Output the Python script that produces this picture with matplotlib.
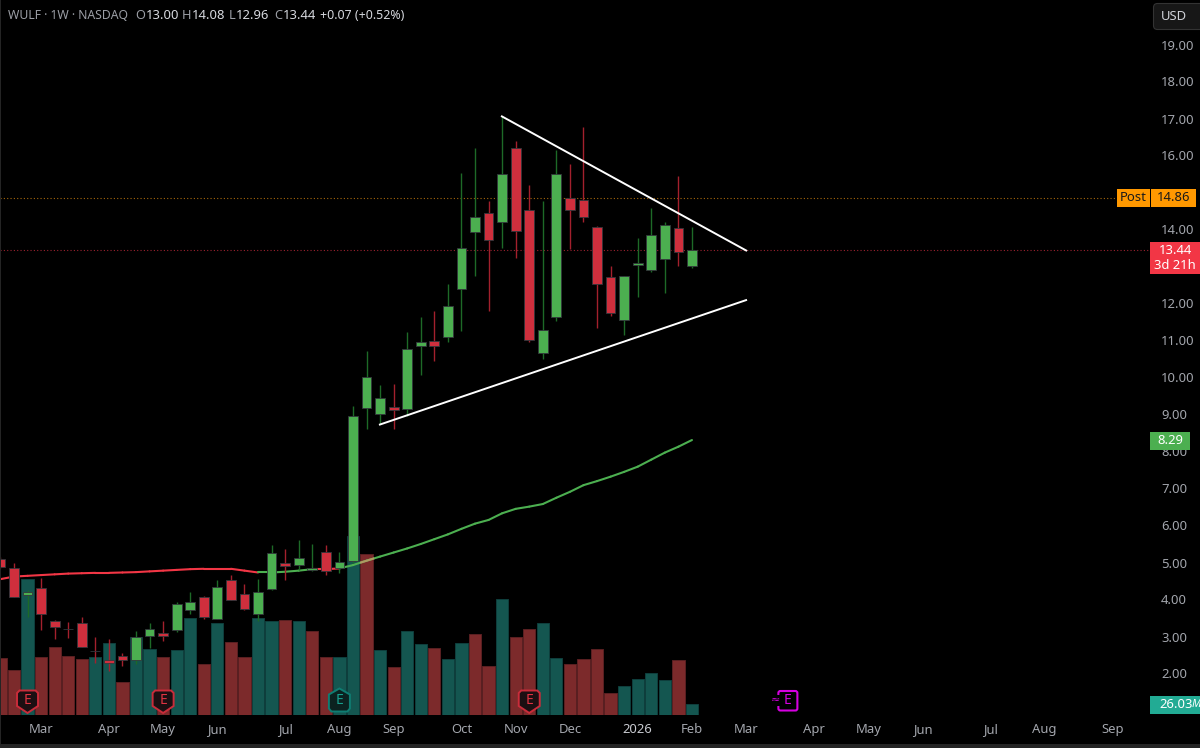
import matplotlib
matplotlib.use("Agg")
import matplotlib.pyplot as plt
from matplotlib.patches import Polygon, Rectangle, FancyBboxPatch
import numpy as np

opens = [5.09,4.84,4.11,4.31,3.41,3.21,3.36,2.61,2.37,2.48,2.36,3.02,3.09,3.17,3.71,4.06,3.48,4.54,4.15,3.62,4.29,5.00,4.93,4.80,5.28,4.84,
         5.05,9.18,9.02,9.21,9.14,10.86,10.98,11.09,12.40,13.94,14.45,14.21,16.19,14.52,10.67,11.63,14.86,14.79,14.07,12.71,11.55,13.03,12.91,13.19,14.05,13.00]
highs = [5.15,4.98,4.26,4.59,3.45,3.38,3.52,3.00,2.93,2.55,3.15,3.36,3.42,3.92,4.21,4.09,4.53,4.66,4.42,4.55,5.48,5.37,5.60,5.50,5.47,5.29,
         9.24,10.72,9.80,9.83,11.24,11.64,11.81,12.52,15.53,16.21,14.77,17.08,16.39,15.20,14.77,16.15,15.77,16.77,14.09,13.01,12.74,13.76,14.57,14.19,15.45,14.08]
lows = [4.85,4.08,3.54,3.18,2.92,2.97,2.72,2.29,2.08,2.21,2.26,2.69,2.89,3.11,3.62,3.47,3.48,3.99,3.72,3.42,4.26,4.53,4.80,4.78,4.66,4.71,
        5.00,8.61,8.74,8.61,8.97,10.07,10.45,10.97,11.26,12.74,11.81,13.50,13.22,10.97,10.50,11.53,13.46,14.19,11.34,11.66,11.15,12.18,12.85,12.28,13.01,12.96]
closes = [4.87,4.08,4.19,3.61,3.27,3.20,2.72,2.60,2.29,2.36,2.99,3.21,3.02,3.89,3.92,3.53,4.34,4.00,3.74,4.20,5.25,4.90,5.11,4.84,4.76,5.02,
          8.97,10.01,9.45,9.13,10.76,10.96,10.85,11.92,13.51,14.35,13.72,15.50,13.95,11.00,11.28,15.50,14.52,14.33,12.52,11.75,12.74,13.10,13.85,14.12,13.38,13.44]
volumes = [144,112,343,146,170,148,140,145,180,81,195,165,145,163,243,127,231,183,146,243,237,240,237,212,145,145,
           451,405,162,119,210,178,168,140,180,203,123,292,197,216,231,144,127,140,165,55,72,89,105,87,137,26]
volume_up = [0,0,1,0,0,0,0,1,1,0,1,1,0,1,1,0,1,0,0,1,1,0,1,0,0,1,
             1,0,1,0,1,1,0,1,1,0,0,1,0,0,1,1,0,0,0,0,1,1,1,1,0,1]
ma_values = [4.55,4.62,4.64,4.66,4.68,4.70,4.71,4.72,4.72,4.73,4.74,4.76,4.78,4.80,4.82,4.83,4.83,4.83,4.78,4.73,4.73,4.75,4.78,4.82,4.82,4.84,
             4.93,5.05,5.16,5.27,5.38,5.50,5.63,5.76,5.91,6.05,6.15,6.33,6.45,6.51,6.58,6.75,6.91,7.09,7.20,7.32,7.45,7.59,7.78,7.97,8.13,8.31]
ma_red_spans = [(0, 19), (23, 24.5)]
month_ticks = [3,8,12,16,21,25,29,34,38,42,47,51,55,60,64,68,73,77,82]
month_labels = ["Mar","Apr","May","Jun","Jul","Aug","Sep","Oct","Nov","Dec","2026","Feb","Mar","Apr","May","Jun","Jul","Aug","Sep"]
price_ticks = [2,3,4,5,6,7,8,9,10,11,12,14,15,16,17,18,19]
upper_trend_x, upper_trend_y = [36.92, 55.06], [17.07, 13.42]
lower_trend_x, lower_trend_y = [27.92, 55.06], [8.72, 12.10]
post_price, last_price, ma_last, vol_last = 14.86, 13.44, 8.29, 26.03
earnings_red = [2, 12, 39]
earnings_teal = [25]
earnings_future = [58]

FONT = "Noto Sans"
plt.rcParams["font.family"] = [FONT, "DejaVu Sans"]
W, H = 1200, 748
BOTTOM, RIGHT = 714.5, 1152
GREEN, RED = "#4caf50", "#cf2f3d"
GREY = "#a3a6ad"

fig = plt.figure(figsize=(W/100, H/100), dpi=100, facecolor="#000000")
pos = [0, 1-BOTTOM/H, RIGHT/W, BOTTOM/H]

def y_of(v):
    return 44.5 + (19 - v)*37

# Volume pane, under the candles
axv = fig.add_axes(pos, facecolor="#000000", zorder=1)
x = np.arange(len(closes))
xlim = ((0-0.4)/13.56, (RIGHT-0.4)/13.56)
axv.set_xlim(xlim)
axv.set_ylim(0, BOTTOM*2.527)
axv.bar(x, volumes, width=0.9, color=["#145650" if u else "#7c2a2b" for u in volume_up],
        edgecolor=["#0f3f3d" if u else "#5a2022" for u in volume_up], linewidth=0.7)
axv.axis("off")

# Price pane
ax = fig.add_axes(pos, zorder=2)
ax.patch.set_visible(False)
ax.set_xlim(xlim)
ax.set_ylim(19-(BOTTOM-44.5)/37, 19+44.5/37)
for s in ax.spines.values():
    s.set_visible(False)
ax.yaxis.tick_right()
ax.set_yticks(price_ticks)
ax.set_yticklabels([f"{p:.2f}" for p in price_ticks], color=GREY, fontsize=9.4)
ax.tick_params(axis="y", length=0, pad=6.5)
ax.set_xticks(month_ticks)
ax.set_xticklabels(month_labels, color=GREY, fontsize=9.4)
ax.tick_params(axis="x", length=0, pad=6)
for t in ax.get_xticklabels():
    if t.get_text() == "2026":
        t.set_fontweight("bold")
        t.set_color("#c8cad0")

ax.axhline(post_price, xmax=1117/RIGHT, color="#a8690c", lw=0.8, ls=(0, (1, 2)), zorder=1)
ax.axhline(last_price, color="#9c2230", lw=0.8, ls=(0, (1, 2)), zorder=1)

# Moving average, coloured segment by segment
for i in range(len(ma_values)-1):
    red = any(a <= i < b for a, b in ma_red_spans)
    ax.plot([i, i+1], ma_values[i:i+2], color="#f23645" if red else GREEN, lw=1.5, zorder=2,
            solid_capstyle="round")
seg = np.array([26.6, 27.5])
ax.plot(seg, np.interp(seg, x, ma_values), color="#b09a62", lw=1.5, zorder=2.1)

# Candles
up = [c >= o for o, c in zip(opens, closes)]
ax.vlines(x, lows, highs, colors=["#1d6a27" if u else "#a3202d" for u in up], lw=1.0, zorder=3)
bottoms = [min(o, c) for o, c in zip(opens, closes)]
heights = [abs(o-c) for o, c in zip(opens, closes)]
ax.bar(x, heights, bottom=bottoms, width=0.72, color=[GREEN if u else RED for u in up],
       edgecolor="#33373c", linewidth=0.6, zorder=4)

# Trend lines
ax.plot(upper_trend_x, upper_trend_y, color="#ffffff", lw=1.4, zorder=5, solid_capstyle="butt")
ax.plot(lower_trend_x, lower_trend_y, color="#ffffff", lw=1.4, zorder=5, solid_capstyle="butt")

# Overlay in pixel coordinates for the chart's chrome
ov = fig.add_axes([0, 0, 1, 1], zorder=5)
ov.set_xlim(0, W)
ov.set_ylim(H, 0)
ov.axis("off")
ov.patch.set_visible(False)
ov.add_patch(Rectangle((0, 743.5), W, 5, color="#242424", lw=0))
ov.add_patch(Rectangle((0, 0), 1.2, 744, color="#242424", lw=0))

header = [(8, "WULF · 1W · NASDAQ", "#9b9ea5", 8.8), (135, "O", "#9b9ea5", 9.2), (146, "13.00", "#d6d8de", 9.4),
          (182, "H", "#9b9ea5", 9.2), (192, "14.08", "#d6d8de", 9.4), (229, "L", "#9b9ea5", 9.2), (236, "12.96", "#d6d8de", 9.4),
          (274, "C", "#9b9ea5", 9.2), (283, "13.44", "#d6d8de", 9.4), (320, "+0.07 (+0.52%)", "#d6d8de", 8.9)]
for hx, txt, col, fs in header:
    ov.text(hx, 15.5, txt, color=col, fontsize=fs, va="center", ha="left", fontweight="medium")

ov.add_patch(FancyBboxPatch((1153.5, 3.5), 52, 26, boxstyle="round,pad=0,rounding_size=4",
                            fc="#171717", ec="#333333", lw=0.8))
ov.text(1174, 16, "USD", color="#d0d2d8", fontsize=9.4, va="center", ha="center")

def box(x0, x1, yc, h, col, lines, tc="#ffffff", fs=9.4, weight="medium"):
    ov.add_patch(Rectangle((x0, yc-h/2), x1-x0, h, color=col, lw=0))
    n = len(lines)
    for k, l in enumerate(lines):
        ov.text((x0+x1)/2, yc + (k-(n-1)/2)*15, l, color=tc, fontsize=fs, ha="center", va="center",
                fontweight=weight)

yp = y_of(post_price)
box(1117, 1150, yp, 18, "#ff9800", ["Post"], tc="#1a1a1a")
box(1151, 1196, yp, 18, "#ff9800", [f"{post_price:.2f}"], tc="#1a1a1a")
box(1150, 1200, y_of(last_price)+7.5, 32, "#f23645", [f"{last_price:.2f}", "3d 21h"])
box(1150, 1190, y_of(ma_last), 17.5, GREEN, [f"{ma_last:.2f}"])
ov.add_patch(Rectangle((1150, 696), 50, 17.5, color="#22ab94", lw=0))
ov.text(1159, 704.5, f"{vol_last:.2f}", color="#ffffff", fontsize=9.4, va="center", ha="left", fontweight="medium")
ov.text(1192, 704.5, "M", color="#ffffff", fontsize=8, va="center", ha="left", style="italic")

def bar_px(i):
    return 0.4 + 13.56*i

def shield(i):
    c = bar_px(i)
    pts = [(c-8, 690.5), (c+8, 690.5), (c+10.5, 693), (c+10.5, 706), (c, 713), (c-10.5, 706), (c-10.5, 693)]
    ov.add_patch(Polygon(pts, closed=True, fc="#1c0f12", ec="#c92c3a", lw=1.4))
    ov.text(c, 701, "E", color="#e03442", fontsize=10, ha="center", va="center", fontweight="bold")

def house(i):
    c = bar_px(i)
    pts = [(c, 688.5), (c+10.5, 694.5), (c+10.5, 708.5), (c+8, 711.5), (c-8, 711.5), (c-10.5, 708.5), (c-10.5, 694.5)]
    ov.add_patch(Polygon(pts, closed=True, fc="#0b2220", ec="#0f7d72", lw=1.4))
    ov.text(c, 701, "E", color="#18a08f", fontsize=10, ha="center", va="center", fontweight="bold")

def future(i):
    c = bar_px(i) + 1
    ov.add_patch(FancyBboxPatch((c-9.5, 691), 19, 19.5, boxstyle="round,pad=0,rounding_size=2",
                                fc="#000000", ec="#d500e0", lw=1.5))
    ov.text(c, 700.5, "E", color="#d500e0", fontsize=10, ha="center", va="center", fontweight="bold")
    ov.text(c-12, 700.5, "≈", color="#d500e0", fontsize=8, ha="center", va="center",
            bbox=dict(fc="#000000", ec="none", pad=0))

for i in earnings_red:
    shield(i)
for i in earnings_teal:
    house(i)
for i in earnings_future:
    future(i)

fig.savefig("out.png", dpi=100, facecolor=fig.get_facecolor())
